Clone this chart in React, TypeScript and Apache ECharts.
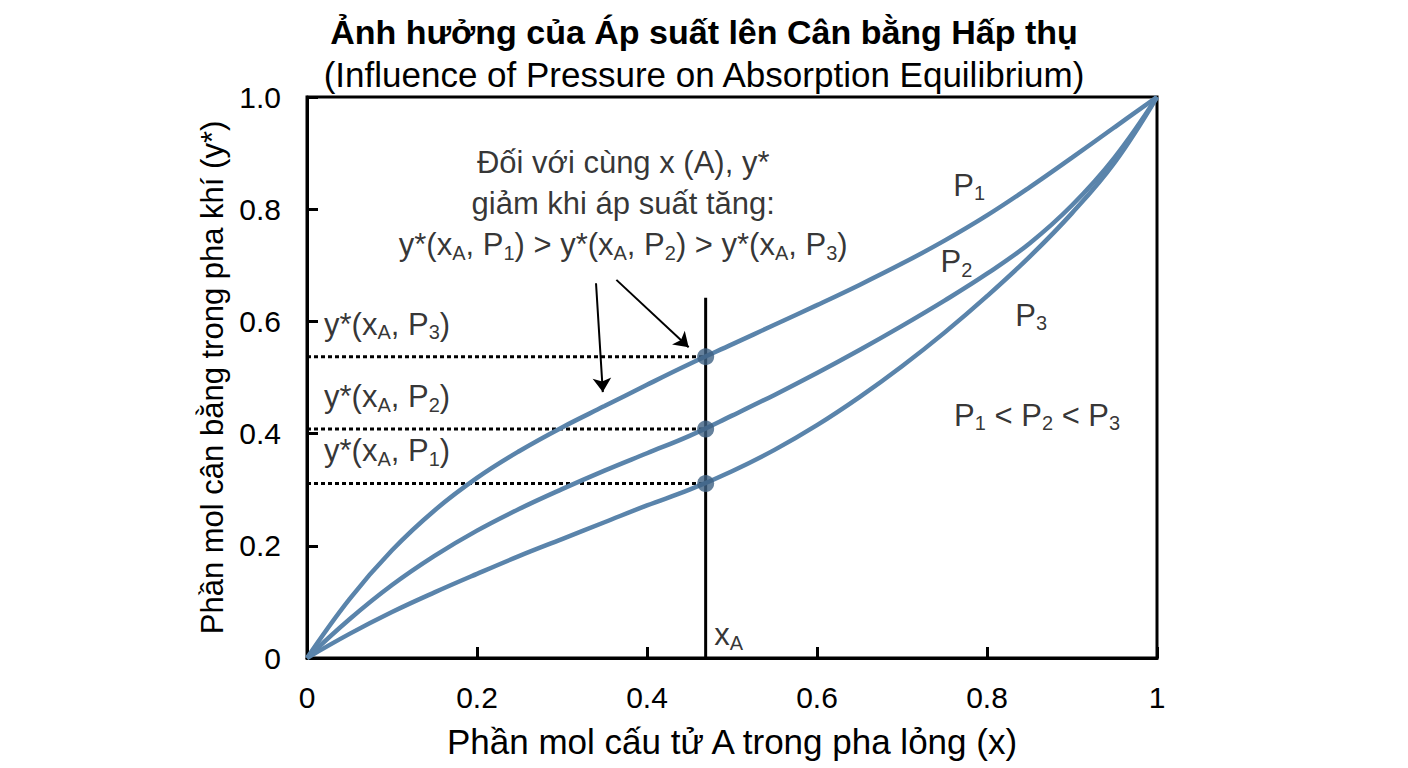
import { useEffect, useRef } from "react";
import * as echarts from "echarts";

// (x = liquid mole fraction, y* = gas mole fraction).
const X_VALUES = [0, 0.05, 0.1, 0.15, 0.2, 0.25, 0.3, 0.35, 0.4, 0.45, 0.5, 0.55, 0.6, 0.65, 0.7, 0.75, 0.8, 0.85, 0.9, 0.95, 1];
const P1_VALUES = [0, 0.105, 0.192, 0.263, 0.321, 0.369, 0.411, 0.449, 0.487, 0.524, 0.559, 0.594, 0.629, 0.665, 0.703, 0.744, 0.789, 0.839, 0.892, 0.946, 1];
const P2_VALUES = [0, 0.069, 0.13, 0.182, 0.227, 0.266, 0.301, 0.334, 0.365, 0.396, 0.432, 0.469, 0.508, 0.549, 0.592, 0.637, 0.685, 0.739, 0.807, 0.892, 1];
const P3_VALUES = [0, 0.043, 0.082, 0.117, 0.15, 0.182, 0.212, 0.242, 0.272, 0.3, 0.333, 0.371, 0.415, 0.465, 0.52, 0.58, 0.645, 0.715, 0.793, 0.883, 1];

const XA = 0.469;
const XA_LINE_TOP = 0.642;
// y* at x_A, top to bottom, and the label drawn above each dotted line
const XA_LEVELS = [0.537, 0.408, 0.311];
const XA_LEVEL_LABELS = ["P3", "P2", "P1"];

const FONT = '"Liberation Sans", Arial, Helvetica, sans-serif';
const CURVE = "#5a84ab";
const DOT = "#3e6283";

const ySub = (p: string) => `{t|y*(x}{s|A}{t|, P}{s|${p.slice(1)}}{t|)}`;
const pSub = (p: string) => `{t|P}{s|${p.slice(1)}}`;

const RICH = {
  t: { fontSize: 31, lineHeight: 41, color: "#000", fontFamily: FONT },
  s: { fontSize: 20, lineHeight: 22, padding: [16, 0, 0, 0], color: "#000", fontFamily: FONT },
};

function note(x: number, y: number, formatter: string, align: "left" | "center" = "center") {
  return {
    value: [x, y],
    label: { show: true, position: "inside", formatter, align, verticalAlign: "middle", rich: RICH },
  };
}

function buildOption() {
  const curve = (name: string, values: number[]) => ({
    name,
    type: "line",
    smooth: 0.4,
    showSymbol: false,
    symbol: "none",
    z: 3,
    lineStyle: { color: CURVE, width: 4.5 },
    data: X_VALUES.map((x, i) => [x, values[i]]),
  });

  const dotted = XA_LEVELS.map((y) => ({
    type: "line",
    symbol: "none",
    z: 2,
    lineStyle: { color: "#000", width: 3, type: [4, 3] },
    data: [[0, y], [XA, y]],
  }));

  const bigNote =
    "{t|Đối với cùng x (A), y*}\n{t|giảm khi áp suất tăng:}\n" +
    `${ySub("P1")}{t| > }${ySub("P2")}{t| > }${ySub("P3")}`;

  return {
    animation: false,
    textStyle: { fontFamily: FONT },
    title: [
      {
        text: "Ảnh hưởng của Áp suất lên Cân bằng Hấp thụ",
        left: "center",
        top: 10,
        textStyle: { fontSize: 34, fontWeight: "bold", color: "#000", fontFamily: FONT },
      },
      {
        text: "(Influence of Pressure on Absorption Equilibrium)",
        left: "center",
        top: 52,
        textStyle: { fontSize: 35, fontWeight: "normal", color: "#000", fontFamily: FONT },
      },
    ],
    grid: { left: 307, right: 251, top: 97, bottom: 110, show: true, borderColor: "#000", borderWidth: 3, backgroundColor: "transparent" },
    xAxis: {
      type: "value",
      min: 0,
      max: 1,
      interval: 0.2,
      name: "Phần mol cấu tử A trong pha lỏng (x)",
      nameLocation: "middle",
      nameGap: 66,
      nameTextStyle: { fontSize: 35, color: "#000", fontFamily: FONT },
      axisLine: { show: true, lineStyle: { color: "#000", width: 3 } },
      axisTick: { show: true, inside: true, length: 11, lineStyle: { color: "#000", width: 3 } },
      axisLabel: {
        fontSize: 30,
        color: "#000",
        margin: 24,
        fontFamily: FONT,
        formatter: (v: number) => (v === 0 || v === 1 ? String(v) : v.toFixed(1)),
      },
      splitLine: { show: false },
    },
    yAxis: {
      type: "value",
      min: 0,
      max: 1,
      interval: 0.2,
      name: "Phần mol cân bằng trong pha khí (y*)",
      nameLocation: "middle",
      nameGap: 78,
      nameTextStyle: { fontSize: 31, color: "#000", fontFamily: FONT },
      axisLine: { show: true, lineStyle: { color: "#000", width: 3 } },
      axisTick: { show: true, inside: true, length: 11, lineStyle: { color: "#000", width: 3 } },
      axisLabel: {
        fontSize: 30,
        color: "#000",
        margin: 26,
        fontFamily: FONT,
        formatter: (v: number) => (v === 0 ? "0" : v.toFixed(1)),
      },
      splitLine: { show: false },
    },
    series: [
      {
        type: "line",
        symbol: "none",
        z: 1,
        lineStyle: { color: "#000", width: 3 },
        data: [[XA, 0], [XA, XA_LINE_TOP]],
      },
      ...dotted,
      curve("P1", P1_VALUES),
      curve("P2", P2_VALUES),
      curve("P3", P3_VALUES),
      {
        type: "scatter",
        symbolSize: 17,
        z: 5,
        itemStyle: { color: DOT },
        data: XA_LEVELS.map((y) => [XA, y]),
      },
      {
        type: "lines",
        coordinateSystem: "cartesian2d",
        symbol: ["none", "arrow"],
        symbolSize: 14,
        z: 4,
        lineStyle: { color: "#000", width: 2, opacity: 1 },
        data: [
          { coords: [[0.34, 0.668], [0.348, 0.474]] },
          { coords: [[0.364, 0.674], [0.449, 0.554]] },
        ],
      },
      {
        type: "scatter",
        symbolSize: 0,
        z: 6,
        silent: true,
        itemStyle: { color: "transparent" },
        data: [
          note(0.372, 0.81, bigNote),
          ...XA_LEVELS.map((y, i) => note(0.02, y + 0.058, ySub(XA_LEVEL_LABELS[i]), "left")),
          note(0.779, 0.843, pSub("P1")),
          note(0.764, 0.706, pSub("P2")),
          note(0.852, 0.611, pSub("P3")),
          note(0.859, 0.433, `${pSub("P1")}{t| < }${pSub("P2")}{t| < }${pSub("P3")}`),
          note(0.496, 0.041, "{t|x}{s|A}"),
        ],
      },
    ],
  };
}

export default function App() {
  const ref = useRef<HTMLDivElement>(null);
  useEffect(() => {
    if (!ref.current) return;
    const chart = echarts.init(ref.current, undefined, { renderer: "svg" });
    chart.setOption(buildOption() as any);
    return () => chart.dispose();
  }, []);
  return (
    <div
      ref={ref}
      style={{ position: "fixed", left: 0, top: 0, width: 1408, height: 768, background: "#fff" }}
    />
  );
}
